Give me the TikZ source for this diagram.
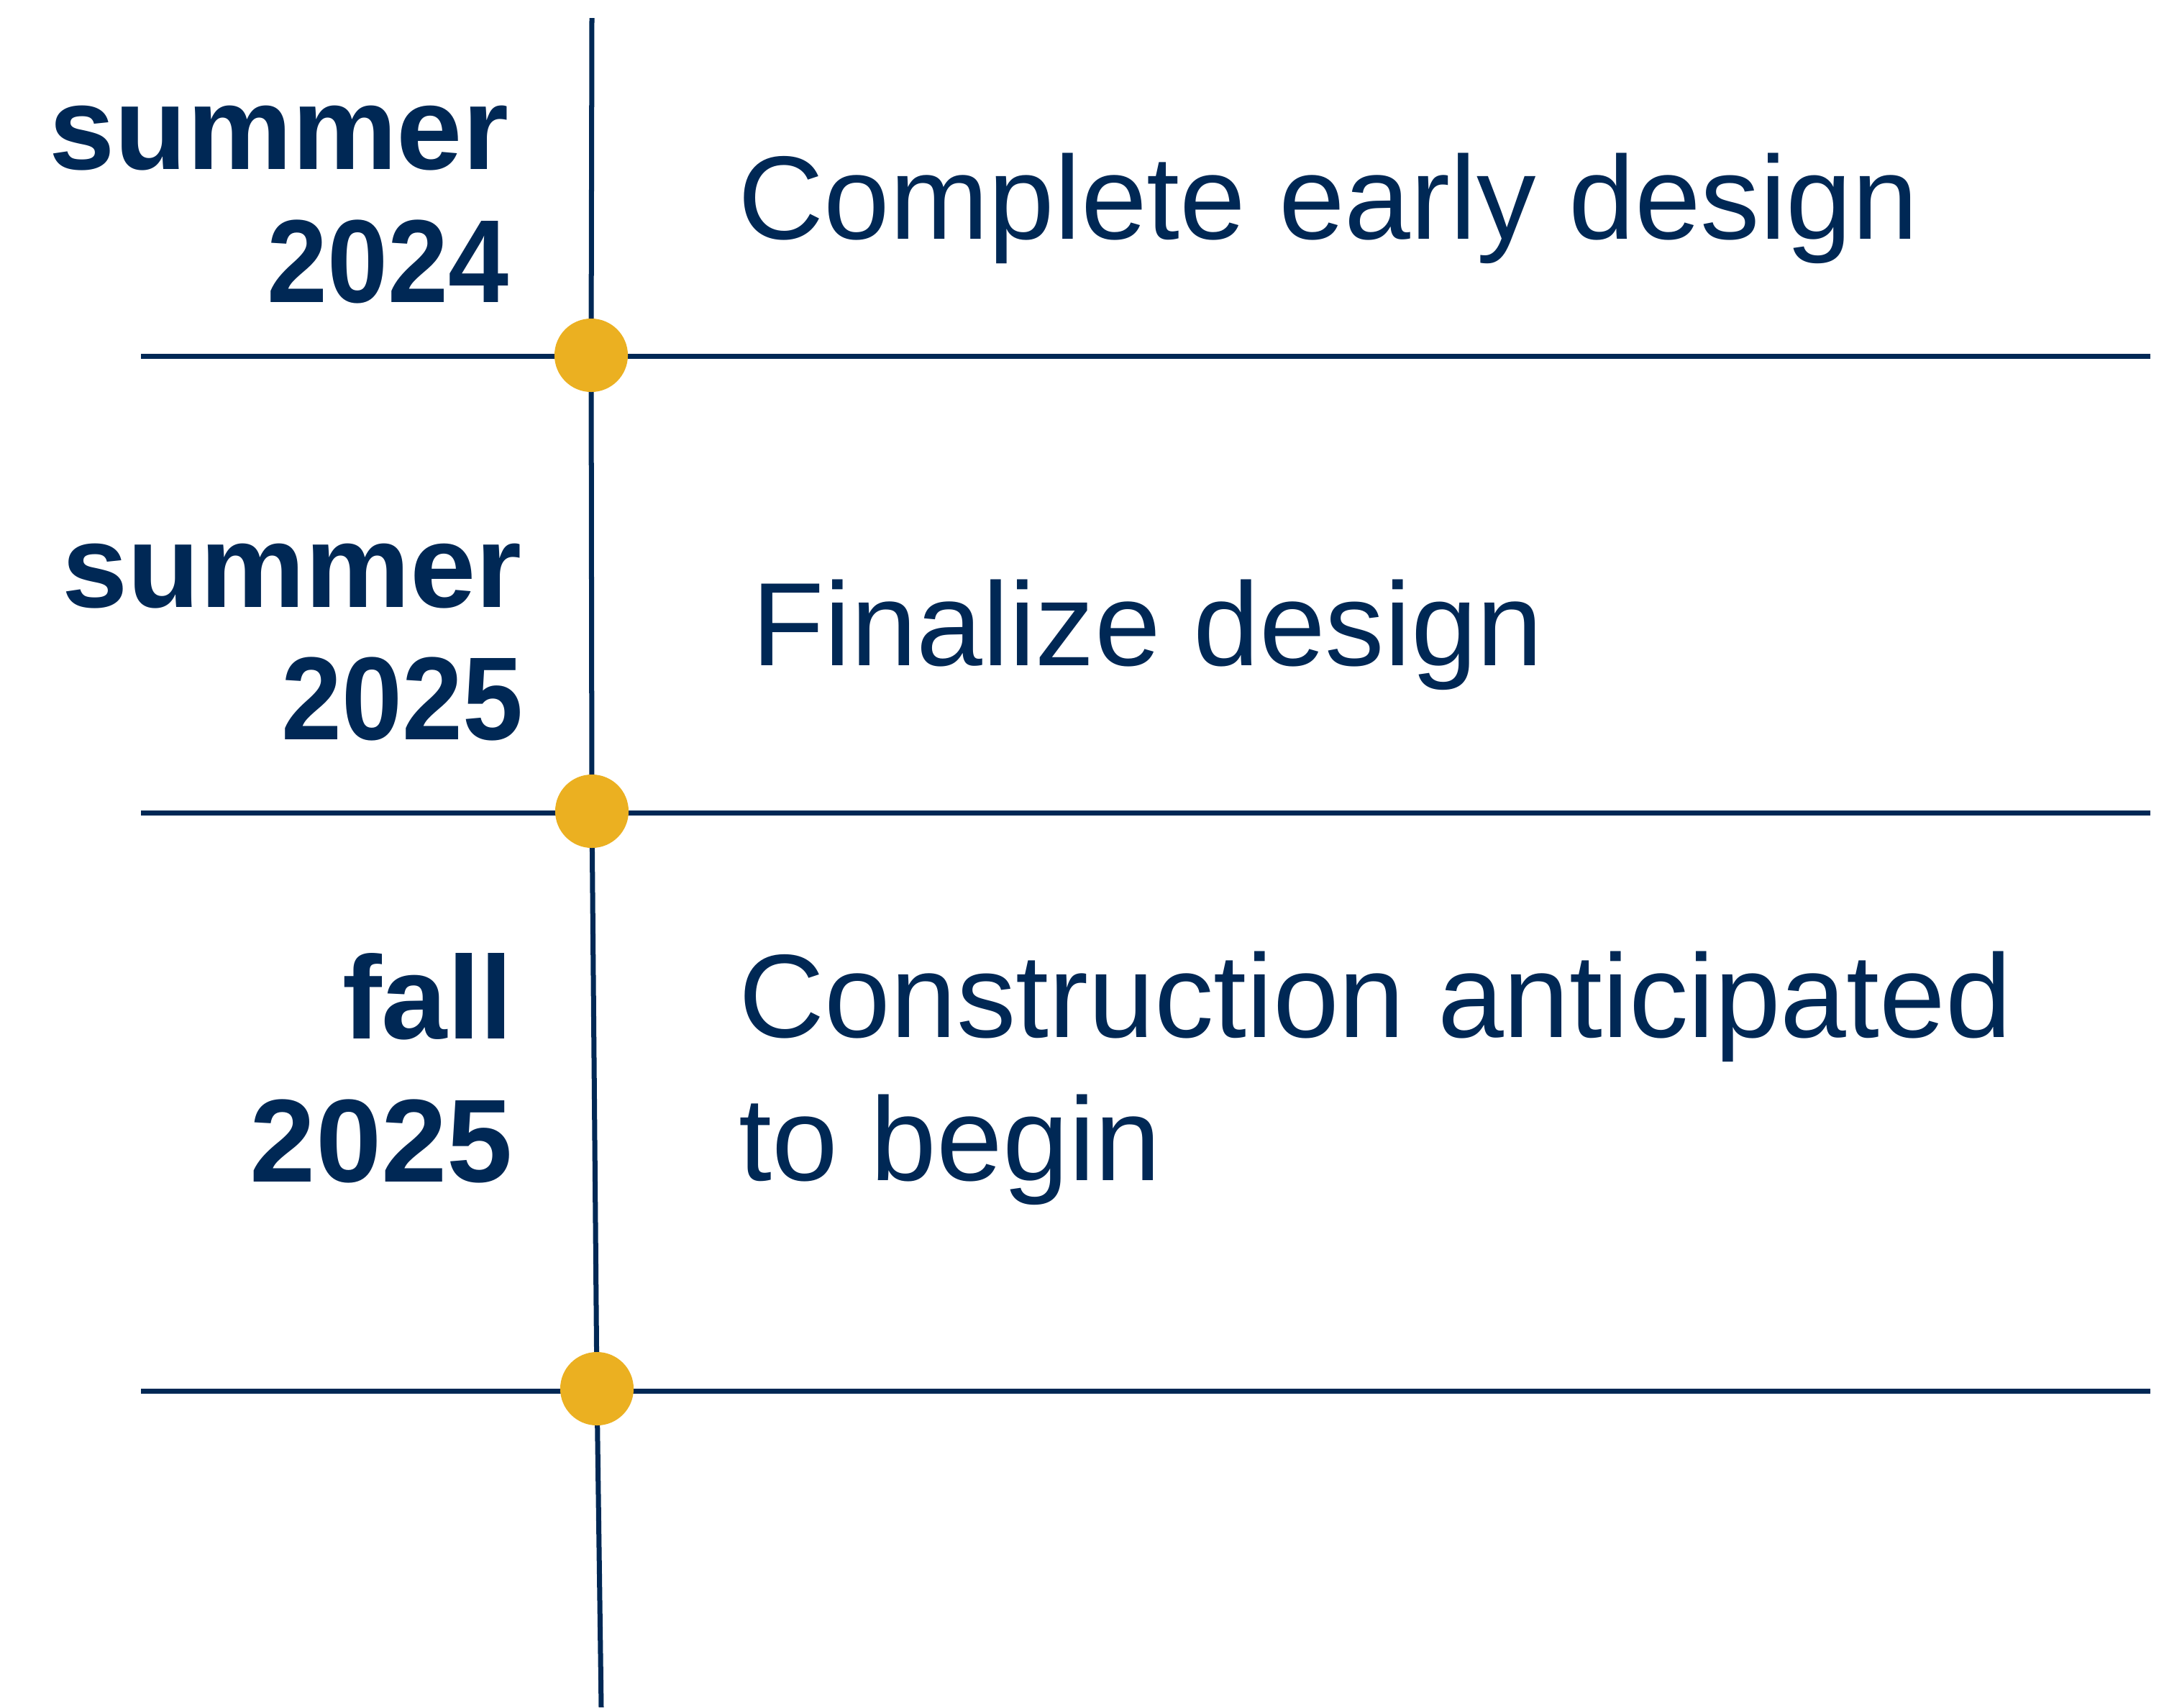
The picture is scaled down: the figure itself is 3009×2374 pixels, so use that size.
\documentclass[tikz,border=0pt]{standalone}
\usepackage{fontspec}
\setmainfont{Liberation Sans}
\definecolor{navy}{RGB}{0,40,85}
\definecolor{gold}{RGB}{235,176,33}
\begin{document}
\begin{tikzpicture}[x=0.01cm,y=-0.01cm,
  rule/.style={draw=navy,line width=0.07cm},
  dot/.style={circle,fill=gold,inner sep=0pt,minimum size=1.02cm},
  datelbl/.style={text=navy,inner sep=0pt,font=\fontsize{46.7pt}{52pt}\selectfont\bfseries,anchor=base east},
  tasklbl/.style={text=navy,inner sep=0pt,font=\fontsize{46.9pt}{56pt}\selectfont,anchor=base west}]
\useasboundingbox[fill=white] (0,0) rectangle (3009,2374);
% coordinates
\coordinate (vtop) at (823,25);
\coordinate (vbot) at (836,2374);
\coordinate (c1) at (822,494);
\coordinate (c2) at (823,1128);
\coordinate (c3) at (830,1931);
\coordinate (h1l) at (196,495);
\coordinate (h1r) at (2990,495);
\coordinate (h2l) at (196,1130);
\coordinate (h2r) at (2990,1130);
\coordinate (h3l) at (196,1934);
\coordinate (h3r) at (2990,1934);
% lines
\draw[rule] (vtop) -- (c1) -- (c2) -- (c3) -- (vbot);
\draw[rule] (h1l) -- (h1r);
\draw[rule] (h2l) -- (h2r);
\draw[rule] (h3l) -- (h3r);
% dots
\node[dot] (d1) at (c1) {};
\node[dot] (d2) at (c2) {};
\node[dot] (d3) at (c3) {};
% date labels
\node[datelbl] (s1a) at (708,235) {summer};
\node[datelbl] (s1b) at (708,420) {\scalebox{0.92}[1]{2024}};
\node[datelbl] (s2a) at (726,844) {summer};
\node[datelbl] (s2b) at (728,1028) {\scalebox{0.92}[1]{2025}};
\node[datelbl] (s3a) at (714,1444) {fall};
\node[datelbl] (s3b) at (714,1643) {2025};
% task labels
\node[tasklbl] (t1) at (1026,332) {Complete early design};
\node[tasklbl] (t2) at (1045,925) {Finalize design};
\node[tasklbl] (t3a) at (1027,1442) {Construction anticipated};
\node[tasklbl] (t3b) at (1027,1641) {to begin};
\end{tikzpicture}
\end{document}
